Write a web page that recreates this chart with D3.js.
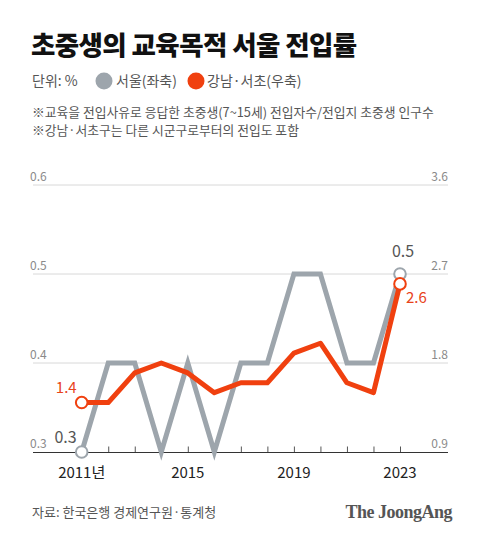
<!DOCTYPE html>
<html><head><meta charset="utf-8">
<script src="https://cdn.jsdelivr.net/npm/d3@7"></script>
<style>
html,body{margin:0;padding:0;background:#fff;}
svg{display:block;font-family:"Noto Sans CJK KR","Noto Sans",sans-serif;}
</style></head>
<body>
<svg id="c" width="480" height="540"></svg>
<script>
const years = [2011,2012,2013,2014,2015,2016,2017,2018,2019,2020,2021,2022,2023];
const seoul = [0.3,0.4,0.4,0.3,0.4,0.3,0.4,0.4,0.5,0.5,0.4,0.4,0.5];
const gangnam = [1.4,1.4,1.7,1.8,1.7,1.5,1.6,1.6,1.9,2.0,1.6,1.5,2.6];
const leftTicks = [0.3,0.4,0.5,0.6];
const rightTicks = [0.9,1.8,2.7,3.6];
const xLabels = [{y:2011,t:"2011년"},{y:2015,t:"2015"},{y:2019,t:"2019"},{y:2023,t:"2023"}];

const svg = d3.select("#c");
const GRAY = "#9da5ac", RED = "#f0400f";

svg.append("text").attr("x",31).attr("y",55).attr("font-size",26.5).attr("font-weight",900)
  .attr("fill","#111").attr("letter-spacing",-0.6).text("초중생의 교육목적 서울 전입률");

const leg = svg.append("g").attr("font-size",14).attr("fill","#555");
leg.append("text").attr("x",32).attr("y",86).text("단위: %");
leg.append("circle").attr("cx",104).attr("cy",81).attr("r",8.5).attr("fill",GRAY);
leg.append("text").attr("x",116).attr("y",86).text("서울(좌축)");
leg.append("circle").attr("cx",196).attr("cy",81).attr("r",8.5).attr("fill",RED);
leg.append("text").attr("x",207).attr("y",86).text("강남·서초(우축)");

const notes = svg.append("g").attr("font-size",12.8).attr("fill","#555");
notes.append("text").attr("x",32).attr("y",117).text("※교육을 전입사유로 응답한 초중생(7~15세) 전입자수/전입지 초중생 인구수");
notes.append("text").attr("x",32).attr("y",135).text("※강남·서초구는 다른 시군구로부터의 전입도 포함");

const x = d3.scaleLinear().domain([2011,2023]).range([81.7,400]);
const yL = d3.scaleLinear().domain([0.3,0.6]).range([452,185]);
const yR = d3.scaleLinear().domain([0.9,3.6]).range([452,185]);

// gridlines
svg.append("g").selectAll("line").data(leftTicks.slice(1)).join("line")
  .attr("x1",33).attr("x2",448).attr("y1",d=>yL(d)).attr("y2",d=>yL(d))
  .attr("stroke","#d8d8d8").attr("stroke-width",1);
svg.append("g").selectAll("text").data(leftTicks).join("text")
  .attr("x",30).attr("y",d=>yL(d)-4).attr("font-size",12).attr("fill","#8a8a8a").text(d=>d.toFixed(1));
svg.append("g").selectAll("text").data(rightTicks).join("text")
  .attr("x",448).attr("y",d=>yR(d)-4).attr("text-anchor","end").attr("font-size",12).attr("fill","#8a8a8a").text(d=>d.toFixed(1));

// x axis
const xAxis = d3.axisTop(x).tickValues(years).tickSize(6).tickFormat("");
const ax = svg.append("g").attr("transform","translate(0,452.5)").call(xAxis);
ax.select(".domain").remove();
ax.selectAll(".tick line").attr("stroke","#555");
svg.append("line").attr("x1",33).attr("x2",448).attr("y1",452.5).attr("y2",452.5).attr("stroke","#333").attr("stroke-width",1.2);
svg.append("g").selectAll("text").data(xLabels).join("text")
  .attr("x",d=>x(d.y)).attr("y",478).attr("text-anchor","middle").attr("font-size",15).attr("fill","#222").text(d=>d.t);

// lines
const lineS = d3.line().x((d,i)=>x(years[i])).y(d=>yL(d));
const lineG = d3.line().x((d,i)=>x(years[i])).y(d=>yR(d));
svg.append("path").attr("d",lineS(seoul)).attr("fill","none").attr("stroke",GRAY).attr("stroke-width",5).attr("stroke-linejoin","miter");
svg.append("path").attr("d",lineG(gangnam)).attr("fill","none").attr("stroke",RED).attr("stroke-width",5).attr("stroke-linejoin","round");

const last = years.length-1;
// endpoint markers
[[0,seoul[0],yL,GRAY],[last,seoul[last],yL,GRAY],[0,gangnam[0],yR,RED],[last,gangnam[last],yR,RED]].forEach(([i,v,s,c])=>{
  svg.append("circle").attr("cx",x(years[i])).attr("cy",s(v)).attr("r",5.8).attr("fill","#fff").attr("stroke",c).attr("stroke-width",2);
});

// labels
svg.append("text").attr("x",x(years[0])-5).attr("y",yL(seoul[0])-9).attr("text-anchor","end").attr("font-size",16).attr("fill","#555").text(seoul[0].toFixed(1));
svg.append("text").attr("x",x(years[0])-5).attr("y",yR(gangnam[0])-10).attr("text-anchor","end").attr("font-size",15).attr("fill","#e8431a").text(gangnam[0].toFixed(1));
svg.append("text").attr("x",x(years[last])+3).attr("y",yL(seoul[last])-17).attr("text-anchor","middle").attr("font-size",16).attr("fill","#555").text(seoul[last].toFixed(1));
svg.append("text").attr("x",x(years[last])+6).attr("y",yR(gangnam[last])+19).attr("font-size",15).attr("fill","#e8431a").text(gangnam[last].toFixed(1));

// footer
svg.append("text").attr("x",32).attr("y",517).attr("font-size",13).attr("fill","#555").text("자료: 한국은행 경제연구원·통계청");
svg.append("text").attr("x",452).attr("y",518).attr("text-anchor","end").attr("font-size",18).attr("font-weight",700)
  .attr("font-family","'Liberation Serif','DejaVu Serif',serif").attr("fill","#555").attr("letter-spacing",-0.5).text("The JoongAng");
</script>
</body></html>
